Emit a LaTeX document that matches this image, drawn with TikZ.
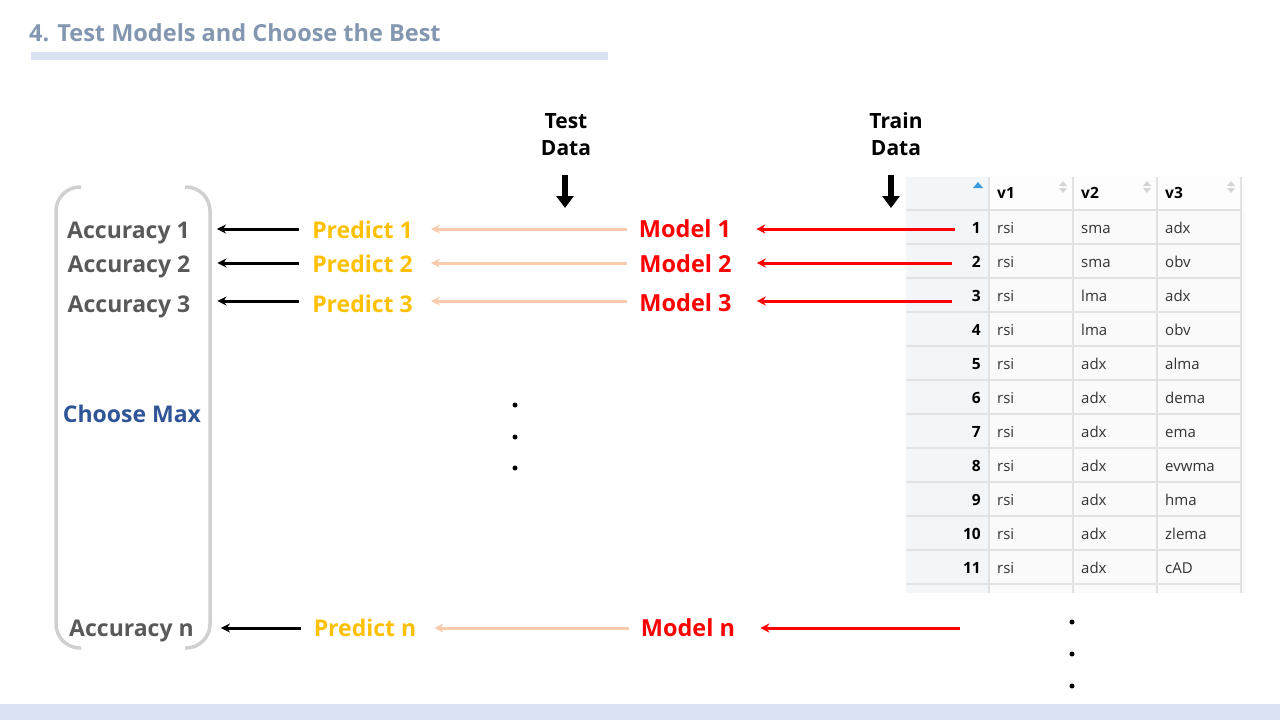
\documentclass[tikz,border=0pt]{standalone}
\usepackage{fontspec}
\setmainfont{Open Sans}
\newfontfamily\tblfont{Open Sans}
\usetikzlibrary{arrows.meta}
\definecolor{titlec}{HTML}{8497B0}
\definecolor{barc}{HTML}{DAE3F3}
\definecolor{accc}{HTML}{595959}
\definecolor{choosec}{HTML}{2F5597}
\definecolor{predc}{HTML}{FFC000}
\definecolor{modelc}{HTML}{FF0000}
\definecolor{peachc}{HTML}{F8CBAD}
\definecolor{brkc}{HTML}{D0D0D0}
\definecolor{idxbg}{HTML}{F3F6F8}
\definecolor{cellbg}{HTML}{FAFAFA}
\definecolor{gridc}{HTML}{E2E2E2}
\definecolor{sortc}{HTML}{D5D5D5}
\definecolor{sortblue}{HTML}{3C9BE0}
\definecolor{tblc}{HTML}{333333}
\tikzset{
  lbl/.style={font=\bfseries\fontsize{23}{28}\selectfont, inner sep=0, anchor=base},
  acc/.style={lbl, text=accc},
  pred/.style={lbl, text=predc},
  model/.style={lbl, text=modelc, font=\bfseries\fontsize{23.5}{28}\selectfont},
  hdr/.style={font=\bfseries\fontsize{21}{28}\selectfont, inner sep=0, anchor=base, align=center},
  tnum/.style={font=\tblfont\bfseries\fontsize{15.5}{18}\selectfont, inner sep=0, anchor=base east, text=black},
  tcell/.style={font=\tblfont\fontsize{15}{18}\selectfont, inner sep=0, anchor=base west, text=tblc},
  thead/.style={font=\tblfont\bfseries\fontsize{15.5}{18}\selectfont, inner sep=0, anchor=base west, text=black},
  redarr/.style={draw=modelc, line width=3, -{Stealth[length=9, width=9]}},
  peacharr/.style={draw=peachc, line width=3, -{Stealth[length=9, width=9]}},
  blkarr/.style={draw=black, line width=3, -{Stealth[length=9, width=9]}},
  blockarr/.style={draw=black, line width=6, -{Triangle[length=12, width=17]}},
  brk/.style={draw=brkc, line width=3.5, rounded corners=24},
  dotc/.style={fill=black, circle, inner sep=0, minimum size=5},
}
\begin{document}
\begin{tikzpicture}[x=1pt, y=-1pt]
\useasboundingbox (0,0) rectangle (1280,720);
% bars
\fill[barc] (0,704) rectangle (1280,720);
\fill[barc] (31,52) rectangle (608,60);
\node[font=\bfseries\fontsize{23.5}{28}\selectfont, text=titlec, inner sep=0, anchor=base west] (title) at (29,41) {4. Test Models and Choose the Best};

% table
\fill[idxbg] (906,177) rectangle (989,593);
\fill[cellbg] (989,210) rectangle (1246,593);
\fill[white!60!cellbg] (989,177) rectangle (1246,210);
\foreach \k in {0,...,11} {
  \draw[gridc, line width=1.6] (906,210+34*\k) -- (1241,210+34*\k);
}
\foreach \xx in {989,1073,1157,1241} {
  \draw[gridc, line width=1.6] (\xx,177) -- (\xx,593);
}
% header
\fill[sortblue] (973,188) -- (983,188) -- (978,182) -- cycle;
\node[thead] (h1) at (997,198) {v1};
\node[thead] (h2) at (1081,198) {v2};
\node[thead] (h3) at (1165,198) {v3};
\foreach \xx in {1063,1147,1231} {
  \fill[sortc] (\xx-4,186) -- (\xx+4,186) -- (\xx,181) -- cycle;
  \fill[sortc] (\xx-4,188) -- (\xx+4,188) -- (\xx,193) -- cycle;
}
\foreach \i/\a/\b/\c in {1/rsi/sma/adx, 2/rsi/sma/obv, 3/rsi/lma/adx, 4/rsi/lma/obv,
  5/rsi/adx/alma, 6/rsi/adx/dema, 7/rsi/adx/ema, 8/rsi/adx/evwma, 9/rsi/adx/hma,
  10/rsi/adx/zlema, 11/rsi/adx/cAD} {
  \node[tnum] (n\i) at (981,233+34*\i-34) {\i};
  \node[tcell] (a\i) at (997,233+34*\i-34) {\a};
  \node[tcell] (b\i) at (1081,233+34*\i-34) {\b};
  \node[tcell] (c\i) at (1165,233+34*\i-34) {\c};
}

% bracket
\draw[brk] (81,187) -- (56,187) -- (56,648) -- (81,648);
\draw[brk] (185,187) -- (210,187) -- (210,648) -- (185,648);

% headers
\node[hdr] (test) at (566,155) {Test\\[-1pt]Data};
\node[hdr] (train) at (896,155) {Train\\[-1pt]Data};
\coordinate (ts) at (565,175);
\coordinate (te) at (565,208);
\coordinate (rs) at (891,175);
\coordinate (re) at (891,208);
\draw[blockarr] (ts) -- (te);
\draw[blockarr] (rs) -- (re);

% labels
\node[acc] (acc1) at (128.5,238) {Accuracy 1};
\node[acc] (acc2) at (129,272) {Accuracy 2};
\node[acc] (acc3) at (129,312) {Accuracy 3};
\node[acc] (accn) at (131.5,636) {Accuracy n};
\node[lbl, text=choosec] (choose) at (132,422) {Choose Max};

\node[pred] (p1) at (362.5,238) {Predict 1};
\node[pred] (p2) at (362.5,272) {Predict 2};
\node[pred] (p3) at (362.5,312) {Predict 3};
\node[pred] (pn) at (365,636) {Predict n};

\node[model] (m1) at (685,237) {Model 1};
\node[model] (m2) at (685.5,272) {Model 2};
\node[model] (m3) at (685.5,311) {Model 3};
\node[model] (mn) at (688,636) {Model n};

% train tails
\coordinate (t1) at (955,229);
\coordinate (t2) at (952,263);
\coordinate (t3) at (952,301);
\coordinate (tn) at (960,628);

% arrows
\foreach \r in {1,2,3,n} {
  \draw[redarr] (t\r) -- ([xshift=25]m\r.east |- t\r);
  \draw[peacharr] ([xshift=-12]m\r.west |- t\r) -- ([xshift=18]p\r.east |- t\r);
  \draw[blkarr] ([xshift=-13]p\r.west |- t\r) -- ([xshift=27]acc\r.east |- t\r);
}

% dots
\foreach \yy [count=\j] in {405,437,468} {
  \node[dotc] (dm\j) at (515,\yy) {};
}
\foreach \yy [count=\j] in {622,654,686} {
  \node[dotc] (dt\j) at (1072,\yy) {};
}
\end{tikzpicture}
\end{document}
